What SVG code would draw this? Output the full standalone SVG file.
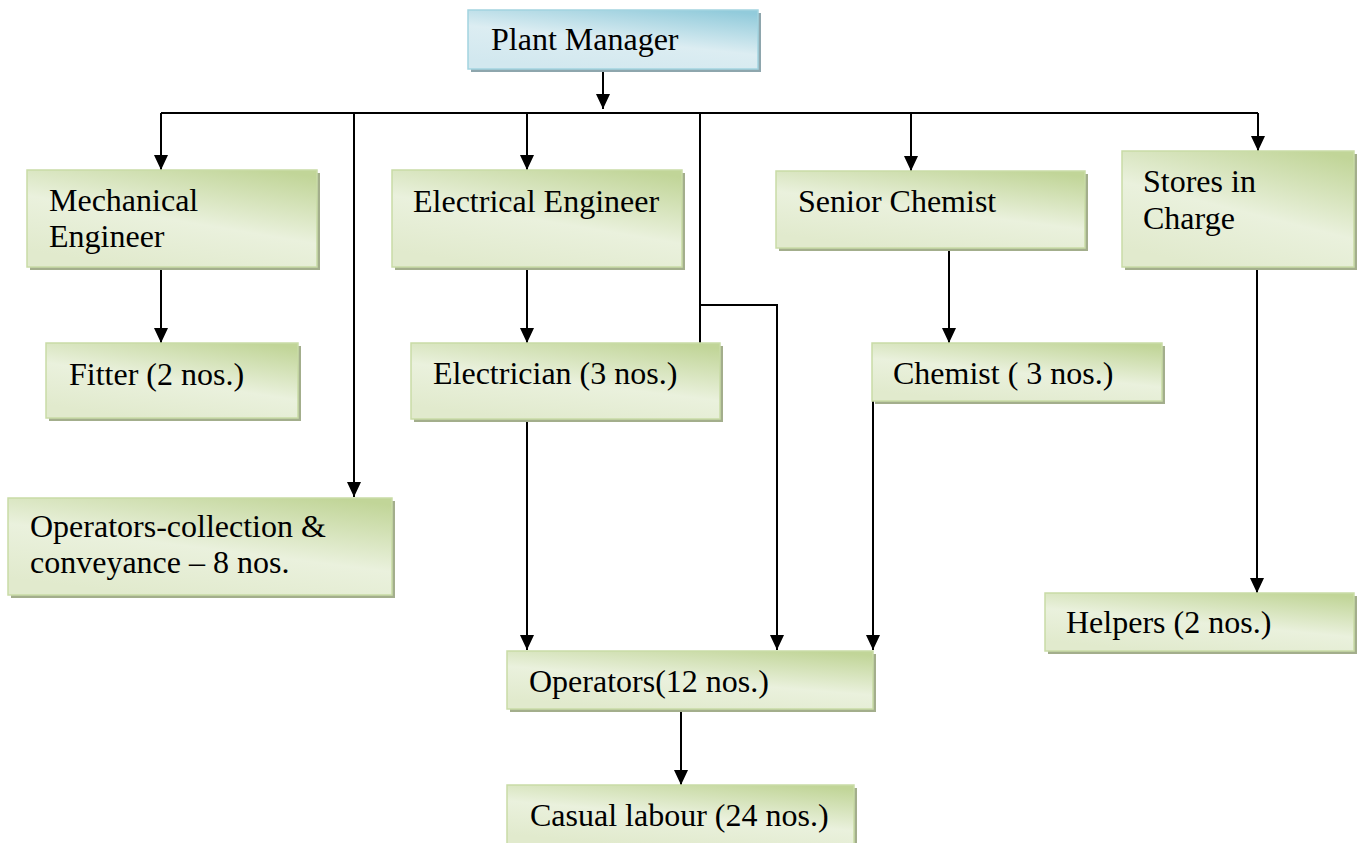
<svg xmlns="http://www.w3.org/2000/svg" width="1360" height="843" viewBox="0 0 1360 843">
<style>
.box{fill:url(#gG);stroke:#c9dba6;stroke-width:1.5}
.sh{fill:#a3ae8c}
.pm{fill:url(#gB);stroke:#a3d4e0;stroke-width:1.5}
.pmsh{fill:#8ea6ad}
.t{font-family:"Liberation Serif","Times New Roman",serif;font-size:32px;fill:#000}
.c{fill:none;stroke:#000;stroke-width:2}
.a{marker-end:url(#ah)}
</style>
<defs>
<linearGradient id="gG" x1="0.85" y1="0" x2="0.35" y2="1">
<stop offset="0" stop-color="#c1d598"/>
<stop offset="0.55" stop-color="#eaf1dd"/>
<stop offset="1" stop-color="#e1eacd"/>
</linearGradient>
<linearGradient id="gB" x1="0.85" y1="0" x2="0.35" y2="1">
<stop offset="0" stop-color="#92cbdb"/>
<stop offset="0.55" stop-color="#dcedf2"/>
<stop offset="1" stop-color="#d2e8ef"/>
</linearGradient>
<marker id="ah" viewBox="0 0 15 14" refX="15" refY="7" markerWidth="15" markerHeight="14" markerUnits="userSpaceOnUse" orient="auto">
<path d="M0,0 L15,7 L0,14 z" fill="#000"/>
</marker>
</defs>

<g id="connectors">
<path class="c a" d="M603,69 V109"/>
<path class="c" d="M161,113 H1258"/>
<path class="c a" d="M161,113 V170"/>
<path class="c a" d="M354,113 V497"/>
<path class="c a" d="M527,113 V170"/>
<path class="c" d="M700,113 V343"/>
<path class="c a" d="M700,305 H777 V650"/>
<path class="c a" d="M911,113 V171"/>
<path class="c a" d="M1258,113 V151"/>
<path class="c a" d="M161,268 V343"/>
<path class="c a" d="M527,268 V343"/>
<path class="c a" d="M949,248 V343"/>
<path class="c a" d="M527,420 V650"/>
<path class="c a" d="M873,401 V650"/>
<path class="c a" d="M1257,267 V593"/>
<path class="c a" d="M681,709 V785"/>
</g>

<g id="plant-manager">
<rect class="pmsh" x="471" y="13" width="290" height="59"/>
<rect class="pm" x="468" y="10" width="290" height="59"/>
<text class="t" x="491" y="50">Plant Manager</text>
</g>
<g id="mechanical-engineer">
<rect class="sh" x="30" y="173" width="290" height="97"/>
<rect class="box" x="27" y="170" width="290" height="97"/>
<text class="t" x="49" y="211">Mechanical</text>
<text class="t" x="49" y="247">Engineer</text>
</g>
<g id="fitter">
<rect class="sh" x="49" y="346" width="252" height="75"/>
<rect class="box" x="46" y="343" width="252" height="75"/>
<text class="t" x="69" y="385">Fitter (2 nos.)</text>
</g>
<g id="operators-collection">
<rect class="sh" x="11" y="501" width="384" height="97"/>
<rect class="box" x="8" y="498" width="384" height="97"/>
<text class="t" x="30" y="537">Operators-collection &amp;</text>
<text class="t" x="30" y="573">conveyance – 8 nos.</text>
</g>
<g id="electrical-engineer">
<rect class="sh" x="395" y="173" width="290" height="97"/>
<rect class="box" x="392" y="170" width="290" height="97"/>
<text class="t" x="413" y="212">Electrical Engineer</text>
</g>
<g id="electrician">
<rect class="sh" x="414" y="346" width="309" height="76"/>
<rect class="box" x="411" y="343" width="309" height="76"/>
<text class="t" x="433" y="384">Electrician (3 nos.)</text>
</g>
<g id="senior-chemist">
<rect class="sh" x="779" y="174" width="309" height="77"/>
<rect class="box" x="776" y="171" width="309" height="77"/>
<text class="t" x="798" y="212">Senior Chemist</text>
</g>
<g id="chemist">
<rect class="sh" x="875" y="346" width="290" height="58"/>
<rect class="box" x="872" y="343" width="290" height="58"/>
<text class="t" x="893" y="384">Chemist ( 3 nos.)</text>
</g>
<g id="stores-in-charge">
<rect class="sh" x="1125" y="154" width="232" height="116"/>
<rect class="box" x="1122" y="151" width="232" height="116"/>
<text class="t" x="1143" y="192">Stores in</text>
<text class="t" x="1143" y="229">Charge</text>
</g>
<g id="helpers">
<rect class="sh" x="1048" y="596" width="309" height="58"/>
<rect class="box" x="1045" y="593" width="309" height="58"/>
<text class="t" x="1066" y="633">Helpers (2 nos.)</text>
</g>
<g id="operators">
<rect class="sh" x="510" y="654" width="366" height="58"/>
<rect class="box" x="507" y="651" width="366" height="58"/>
<text class="t" x="529" y="692">Operators(12 nos.)</text>
</g>
<g id="casual-labour">
<rect class="sh" x="510" y="788" width="347" height="60"/>
<rect class="box" x="507" y="785" width="347" height="60"/>
<text class="t" x="530" y="826">Casual labour (24 nos.)</text>
</g>
</svg>
